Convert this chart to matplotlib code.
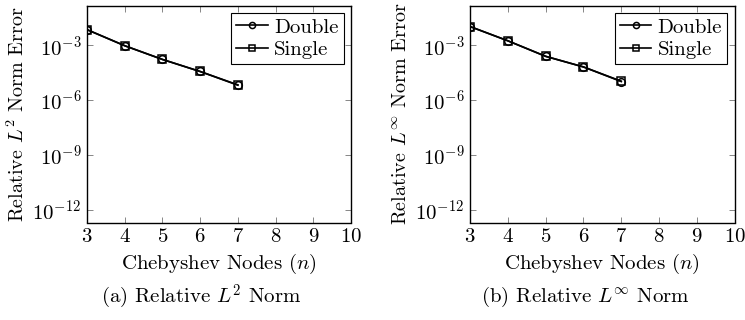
import numpy as np
import matplotlib
matplotlib.use("Agg")
import matplotlib.pyplot as plt

plt.rcParams['font.family'] = ['cmr10', 'DejaVu Serif']
plt.rcParams['mathtext.fontset'] = 'cm'
plt.rcParams['axes.formatter.use_mathtext'] = True
plt.rcParams['axes.unicode_minus'] = False

nodes = [3, 4, 5, 6, 7]
l2_double_exp = [-2.15, -3.03, -3.78, -4.44, -5.19]
l2_single_exp = [-2.15, -3.03, -3.78, -4.44, -5.17]
linf_double_exp = [-1.98, -2.76, -3.61, -4.19, -4.99]
linf_single_exp = [-1.98, -2.76, -3.61, -4.19, -4.97]
yticks_exp = [-12, -9, -6, -3]
xticks = [3, 4, 5, 6, 7, 8, 9, 10]

FS = 15

fig = plt.figure(figsize=(7.45, 3.2), dpi=100)
ax1 = fig.add_axes([87/745, 1-222.5/320, (351-87)/745, (222.5-5.5)/320])
ax2 = fig.add_axes([470/745, 1-222.5/320, (734.7-470)/745, (222.5-5.5)/320])

def setup(ax, dbl, sgl, ylabel):
    ax.plot(nodes, 10.0**np.array(dbl), color='black', lw=1.2, marker='o',
            ms=5.5, mfc='none', mew=1.1, label='Double')
    ax.plot(nodes, 10.0**np.array(sgl), color='black', lw=1.2, marker='s',
            ms=5.5, mfc='none', mew=1.1, label='Single')
    ax.set_yscale('log')
    ax.set_xlim(3, 10)
    ax.set_ylim(10**-12.7, 10**-0.83)
    ax.set_xticks(xticks)
    ax.set_yticks([10.0**e for e in yticks_exp])
    ax.yaxis.set_minor_locator(matplotlib.ticker.NullLocator())
    ax.tick_params(direction='in', top=True, right=True, length=4, width=0.6,
                   color='0.45', labelsize=FS, pad=4)
    for s in ax.spines.values():
        s.set_linewidth(1.0)
    ax.set_xlabel('Chebyshev Nodes ($n$)', fontsize=FS, labelpad=4)
    ax.set_ylabel(ylabel, fontsize=14.5, labelpad=3)
    leg = ax.legend(loc='upper right', fontsize=FS, frameon=True, fancybox=False,
                    edgecolor='black', framealpha=1, handlelength=1.5,
                    borderpad=0.25, labelspacing=0.18, handletextpad=0.3,
                    borderaxespad=0.35, markerscale=0.8)
    leg.get_frame().set_linewidth(0.8)

setup(ax1, l2_double_exp, l2_single_exp, 'Relative $L^2$ Norm Error')
setup(ax2, linf_double_exp, linf_single_exp, r'Relative $L^\infty$ Norm Error')

fig.text(201/745, 1-297/320, '(a) Relative $L^2$ Norm', ha='center', va='center', fontsize=FS)
fig.text(585/745, 1-297/320, r'(b) Relative $L^\infty$ Norm', ha='center', va='center', fontsize=FS)

fig.savefig('out.png', dpi=100)
